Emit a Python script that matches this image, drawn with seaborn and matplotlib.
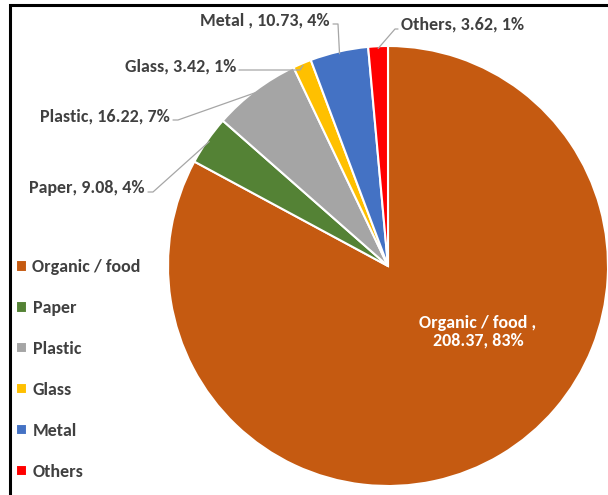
import numpy as np
import seaborn as sns
import matplotlib.pyplot as plt
from matplotlib.patches import Rectangle

"""
Data
"""
categories = ['Organic / food', 'Paper', 'Plastic', 'Glass', 'Metal', 'Others']
amounts = [208.37, 9.08, 16.22, 3.42, 10.73, 3.62]
percents = [83, 4, 7, 1, 4, 1]
label_names = ['Organic / food ', 'Paper', 'Plastic', 'Glass', 'Metal ', 'Others']
colors = ['#C55A11', '#548235', '#A5A5A5', '#FFC000', '#4472C4', '#FF0000']

sns.set_style('white')
plt.rcParams['font.family'] = ['Carlito', 'DejaVu Sans']
plt.rcParams['font.weight'] = 'bold'
TXT = '#404040'
FS = 13

W, H = 608, 495
CX, CY, R = 388, 266, 220
fig = plt.figure(figsize=(W / 100, H / 100), dpi=100)
ax = fig.add_axes([(CX - R) / W, (H - CY - R) / H, 2 * R / W, 2 * R / H])
wedges, _ = ax.pie(amounts, colors=colors, startangle=90, counterclock=False,
                   wedgeprops=dict(edgecolor='white', linewidth=1.5))
ax.set_xlim(-1, 1)
ax.set_ylim(-1, 1)
ax.set_aspect('equal')
ax.axis('off')


def px(x, y):
    # pixel position (from top-left) -> data coords of the pie axes
    return (x - CX) / R, (CY - y) / R


# organic label inside the slice
ax.text(*px(478, 332), f'{label_names[0]},\n{amounts[0]:.2f}, {percents[0]}%',
        ha='center', va='center', color='white', fontsize=FS, linespacing=1.15)

# outside labels with leader lines
outside = {
    1: dict(tx=145, ty=188, ha='right', elbow=153),
    2: dict(tx=170, ty=116, ha='right', elbow=178),
    3: dict(tx=236, ty=66, ha='right', elbow=300),
    4: dict(tx=330, ty=20, ha='right', elbow=338),
    5: dict(tx=401, ty=25, ha='left', elbow=395),
}
for i, o in outside.items():
    w = wedges[i]
    mid = np.deg2rad((w.theta1 + w.theta2) / 2)
    ex, ey = 0.99 * np.cos(mid), 0.99 * np.sin(mid)
    ax.text(*px(o['tx'], o['ty']), f'{label_names[i]}, {amounts[i]:.2f}, {percents[i]}%',
            ha=o['ha'], va='center', color=TXT, fontsize=FS)
    sx = o['tx'] + (3 if o['ha'] == 'right' else -3)
    p0 = px(sx, o['ty'] + 4)
    p1 = px(o['elbow'], o['ty'] + 4)
    ax.plot([p0[0], p1[0], ex], [p0[1], p1[1], ey], color='#A6A6A6', lw=0.9,
            clip_on=False)

fig.legend(wedges, categories, loc='upper left', bbox_to_anchor=(0, 1 - 243 / H),
           frameon=False, fontsize=FS, handlelength=0.6, handleheight=0.6,
           handletextpad=0.3, labelspacing=1.38, labelcolor=TXT)

fig.patches.append(Rectangle((10 / W, -0.1), 1.2, 1.1 - 5 / H, transform=fig.transFigure,
                             fill=False, edgecolor='black', linewidth=2.2))
fig.savefig('out.png', dpi=100)
